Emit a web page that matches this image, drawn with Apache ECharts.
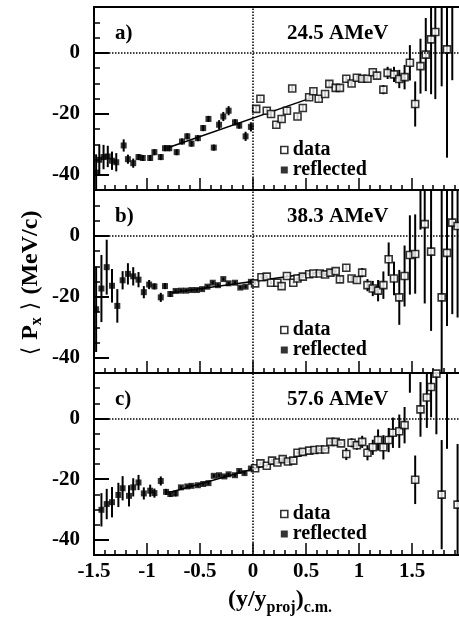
<!DOCTYPE html>
<html>
<head>
<meta charset="utf-8">
<script src="https://cdn.jsdelivr.net/npm/echarts@6/dist/echarts.min.js"></script>
<style>
  html, body { margin: 0; padding: 0; background: #fff; }
  #main { width: 459px; height: 624px; }
</style>
</head>
<body>
<div id="main"></div>
<script>
// [x (y/yproj), <Px> MeV/c, error]
const refA = [
  [-1.48, -39.3, 6], [-1.45, -35.1, 5], [-1.41, -34.2, 4], [-1.37, -34, 3.5], [-1.33, -35.4, 3],
  [-1.29, -35.9, 3], [-1.22, -30.4, 2], [-1.18, -34.9, 1.5], [-1.13, -36.2, 1.5], [-1.08, -34.2, 1],
  [-1.04, -34.5, 1], [-0.97, -34.5, 1], [-0.93, -32.6, 1], [-0.87, -34.2, 1], [-0.83, -31.3, 1],
  [-0.79, -31.3, 1], [-0.72, -32.6, 1], [-0.67, -29.1, 1], [-0.62, -27.4, 1], [-0.58, -29.8, 1],
  [-0.52, -28, 1], [-0.47, -24.7, 1], [-0.42, -21.7, 1], [-0.37, -31.1, 1], [-0.32, -23.6, 1.5],
  [-0.28, -20.9, 1.5], [-0.23, -19, 1.5], [-0.17, -22.8, 1], [-0.13, -23.9, 1], [-0.07, -27.4, 1.5],
  [-0.02, -24.3, 1.5]
];
const datA = [
  [0.03, -18.4, 1], [0.07, -15.1, 1], [0.13, -19, 1], [0.17, -20.1, 1], [0.22, -23.6, 1],
  [0.27, -21.7, 1], [0.32, -19, 1], [0.37, -11.7, 1], [0.42, -20.9, 1], [0.47, -18.1, 1],
  [0.53, -14.6, 1], [0.57, -12.6, 1], [0.62, -15.1, 1], [0.68, -13.5, 1], [0.72, -10.2, 1],
  [0.78, -11.5, 1], [0.82, -11.5, 1], [0.88, -8.5, 1], [0.93, -10.1, 1], [0.98, -8.2, 1],
  [1.03, -8.5, 1], [1.08, -8.5, 1], [1.13, -6.4, 1], [1.17, -7.5, 1], [1.23, -12.1, 1.5],
  [1.27, -6.6, 2], [1.33, -7.1, 2.5], [1.38, -8.6, 3], [1.43, -8, 4], [1.48, -3.3, 5.8],
  [1.53, -16.8, 7.4], [1.58, -4.4, 9], [1.63, -0.6, 12], [1.68, 4.4, 18], [1.72, 6.8, 22],
  [1.78, 20, 31], [1.83, 1.1, 35.5], [1.88, 20, 29]
];
const refB = [
  [-1.48, -24.1, 14], [-1.43, -17.3, 11], [-1.38, -10.3, 9], [-1.33, -16.4, 5.5], [-1.28, -23, 5.5],
  [-1.23, -14.6, 3], [-1.18, -12.5, 3.5], [-1.13, -13.3, 3], [-1.08, -14.4, 2.5], [-1.03, -18.5, 2],
  [-0.98, -16, 1.5], [-0.93, -16.6, 1], [-0.87, -20.2, 1.5], [-0.83, -16.5, 1], [-0.78, -19.1, 1],
  [-0.73, -18.1, 0.5], [-0.68, -18, 0.5], [-0.63, -18, 0.5], [-0.58, -17.8, 0.5], [-0.53, -17.8, 0.5],
  [-0.48, -17.5, 0.5], [-0.43, -16.7, 0.5], [-0.38, -15.4, 0.5], [-0.33, -16.2, 0.5], [-0.28, -14.2, 0.5],
  [-0.23, -15.6, 0.5], [-0.17, -15.4, 0.5], [-0.12, -17, 0.5], [-0.07, -16.7, 0.5], [-0.02, -15.1, 0.5]
];
const datB = [
  [0.02, -15.6, 0.5], [0.08, -13.6, 0.5], [0.13, -13.4, 0.5], [0.17, -15.4, 0.5], [0.23, -15.4, 0.5],
  [0.27, -16.5, 0.5], [0.32, -13.2, 0.5], [0.38, -15.4, 0.5], [0.42, -14, 0.5], [0.47, -13.4, 0.5],
  [0.53, -12.6, 0.5], [0.57, -12.4, 0.5], [0.63, -12.4, 0.5], [0.68, -12.7, 0.5], [0.73, -12.1, 0.5],
  [0.78, -11.6, 0.5], [0.82, -14.3, 1], [0.88, -10.5, 1], [0.93, -14, 1], [0.98, -14.5, 1],
  [1.03, -12.1, 1.5], [1.08, -16.2, 2], [1.13, -17.3, 2.5], [1.18, -18, 3.5], [1.23, -16.2, 4.5],
  [1.28, -7.7, 5.5], [1.33, -14, 5.5], [1.38, -20.2, 9], [1.43, -13.2, 10], [1.48, -6.3, 13],
  [1.53, -6, 13], [1.58, 22, 20], [1.62, 3.8, 26], [1.68, -5.2, 26], [1.78, -20.2, 40],
  [1.83, -5.6, 24], [1.88, 4.3, 30], [1.93, 3.2, 30]
];
const refC = [
  [-1.43, -30.1, 5.5], [-1.38, -28.2, 5], [-1.33, -27.6, 5], [-1.27, -25.2, 4], [-1.23, -23, 4],
  [-1.17, -25.5, 3.5], [-1.13, -22.7, 3], [-1.08, -21.1, 2.5], [-1.03, -24.7, 2], [-0.97, -23.8, 2],
  [-0.93, -24.6, 1.5], [-0.87, -20.6, 1.5], [-0.82, -24.2, 1], [-0.78, -24.9, 1], [-0.73, -24.7, 1],
  [-0.68, -22.7, 0.5], [-0.62, -22.4, 0.5], [-0.58, -22.2, 0.5], [-0.52, -22, 0.5], [-0.47, -21.6, 0.5],
  [-0.42, -21.3, 0.5], [-0.37, -18.9, 0.5], [-0.32, -18.7, 0.5], [-0.27, -19.1, 0.5], [-0.23, -18.4, 0.5],
  [-0.17, -18.7, 0.5], [-0.13, -17.3, 0.5], [-0.08, -18, 0.5], [-0.02, -16.5, 0.5]
];
const datC = [
  [0.02, -16.4, 0.5], [0.07, -14.8, 0.5], [0.13, -15.6, 0.5], [0.18, -13.9, 0.5], [0.23, -14.5, 0.5],
  [0.28, -13.4, 0.5], [0.33, -14.2, 0.5], [0.38, -13.9, 0.5], [0.42, -11.3, 0.5], [0.47, -11, 0.5],
  [0.53, -10.6, 0.5], [0.58, -10.4, 0.5], [0.63, -10.2, 0.5], [0.68, -10.2, 0.5], [0.73, -7.7, 0.5],
  [0.78, -7.7, 0.5], [0.83, -8.2, 0.5], [0.88, -11.7, 2], [0.93, -8, 1.5], [0.98, -8.8, 1.5],
  [1.03, -7.7, 2], [1.08, -11.3, 2.5], [1.13, -9.5, 2.5], [1.18, -7.1, 3.5], [1.23, -9.5, 4],
  [1.28, -7.1, 4], [1.32, -4.7, 5], [1.38, -4.2, 5.5], [1.43, -2.2, 6], [1.48, 22, 13.5],
  [1.53, -20.2, 8], [1.58, 3, 9], [1.64, 6.9, 10], [1.68, 10.4, 10], [1.73, 14.8, 20],
  [1.78, -25.1, 18], [1.83, 20, 30], [1.93, -28.4, 20]
];
// straight-line fits, [x, value] end points
const fitA = [[-0.79, -31], [0.55, -14.8]];
const fitB = [[-0.77, -18.7], [0.77, -11.2]];
const fitC = [[-0.78, -24.3], [0.72, -9.6]];

const xTicks = [-1.5, -1, -0.5, 0, 0.5, 1, 1.5];
const yTicks = [-40, -20, 0];
const labels = ['a)', 'b)', 'c)'];
const energies = ['24.5 AMeV', '38.3 AMeV', '57.6 AMeV'];

const FONT = '"Liberation Serif", "Times New Roman", serif';
const panels = [
  { top: 7, height: 183, ref: refA, dat: datA, fit: fitA, legendTop: 135 },
  { top: 190, height: 183, ref: refB, dat: datB, fit: fitB, legendTop: 315 },
  { top: 373, height: 182, ref: refC, dat: datC, fit: fitC, legendTop: 499 }
];

function renderErr(params, api) {
  const x = api.value(0), y = api.value(1), e = api.value(2);
  const cs = params.coordSys;
  const hi = api.coord([x, y + e]);
  const lo = api.coord([x, y - e]);
  const y1 = Math.max(hi[1], cs.y);
  const y2 = Math.min(lo[1], cs.y + cs.height);
  if (y2 <= y1) return;
  return {
    type: 'line',
    shape: { x1: hi[0], y1: y1, x2: hi[0], y2: y2 },
    style: { stroke: '#000', lineWidth: 2 }
  };
}

const grid = [], xAxis = [], yAxis = [], series = [], legend = [], graphic = [];

panels.forEach((p, i) => {
  grid.push({
    left: 94, right: -6, top: p.top, height: p.height,
    containLabel: false, outerBoundsMode: 'none',
    show: true, borderColor: '#000', borderWidth: 2
  });
  xAxis.push({
    gridIndex: i, type: 'value', position: 'bottom', min: -1.5, max: 2, interval: 0.5,
    axisLine: { onZero: false, lineStyle: { color: '#000', width: 2 } },
    axisTick: { inside: true, length: 12, lineStyle: { color: '#000', width: 1.5 } },
    minorTick: { show: true, splitNumber: 5, length: 5, lineStyle: { color: '#000', width: 1.5 } },
    splitLine: { show: false },
    axisLabel: {
      show: i === 2, customValues: xTicks, margin: 6,
      fontFamily: FONT, fontWeight: 'bold', fontSize: 21, color: '#000'
    }
  });
  // minor ticks every 5
  yAxis.push({
    gridIndex: i, type: 'value', position: 'left', min: -45, max: 15, interval: 5,
    axisLine: { show: false, onZero: false },
    axisTick: { inside: true, length: 6, lineStyle: { color: '#000', width: 1.5 } },
    axisLabel: { show: false },
    splitLine: { show: false }
  });
  // major ticks + labels
  yAxis.push({
    gridIndex: i, type: 'value', position: 'left', offset: 0, min: -45, max: 15,
    axisLine: { show: false, onZero: false },
    axisTick: { inside: true, length: 15, customValues: yTicks, lineStyle: { color: '#000', width: 2 } },
    axisLabel: {
      customValues: yTicks, margin: 14,
      fontFamily: FONT, fontWeight: 'bold', fontSize: 21, color: '#000'
    },
    splitLine: { show: false }
  });

  series.push({
    type: 'line', xAxisIndex: i, yAxisIndex: 2 * i, data: p.fit,
    symbol: 'none', lineStyle: { color: '#000', width: 1.5 }, z: 1, silent: true,
    markLine: {
      silent: true, symbol: 'none', label: { show: false },
      lineStyle: { type: 'dotted', color: '#000', width: 1.5 },
      data: [{ yAxis: 0 }, { xAxis: 0 }]
    }
  });
  series.push({
    type: 'custom', xAxisIndex: i, yAxisIndex: 2 * i,
    data: p.ref.concat(p.dat), encode: { x: 0, y: 1 },
    renderItem: renderErr, z: 2, silent: true
  });
  series.push({
    name: 'reflected', type: 'scatter', xAxisIndex: i, yAxisIndex: 2 * i,
    data: p.ref, encode: { x: 0, y: 1 },
    symbol: 'rect', symbolSize: 6, itemStyle: { color: '#000' }, z: 3
  });
  series.push({
    name: 'data', type: 'scatter', xAxisIndex: i, yAxisIndex: 2 * i,
    data: p.dat, encode: { x: 0, y: 1 },
    symbol: 'rect', symbolSize: 7,
    itemStyle: { color: '#fff', borderColor: '#000', borderWidth: 1.6 }, z: 4
  });

  legend.push({
    orient: 'vertical', left: 275, top: p.legendTop,
    itemWidth: 7, itemHeight: 7, itemGap: 0, selectedMode: false,
    data: [
      { name: 'data', icon: 'rect', itemStyle: { color: '#fff', borderColor: '#000', borderWidth: 1.6 } },
      { name: 'reflected', icon: 'rect', itemStyle: { color: '#000' } }
    ],
    textStyle: { fontFamily: FONT, fontWeight: 'bold', fontSize: 20, color: '#000', lineHeight: 18 }
  });

  graphic.push({
    type: 'text', x: 115, y: p.top + 26.5,
    style: { text: labels[i], font: 'bold 21px ' + FONT, fill: '#000', verticalAlign: 'middle' }
  });
  graphic.push({
    type: 'text', x: 287, y: p.top + 26.5,
    style: { text: energies[i], font: 'bold 21px ' + FONT, fill: '#000', verticalAlign: 'middle' }
  });
});

// axis titles
graphic.push({
  type: 'text', x: 31, y: 283, rotation: Math.PI / 2,
  style: {
    text: '{b|⟨ }{m|P}{s|x}{b| ⟩ }{m|(MeV/c)}',
    align: 'center', verticalAlign: 'middle',
    rich: {
      m: { fontFamily: FONT, fontWeight: 'bold', fontSize: 24, lineHeight: 28, fill: '#000' },
      b: { fontFamily: '"DejaVu Sans"', fontSize: 22, lineHeight: 28, fill: '#000' },
      s: { fontFamily: FONT, fontWeight: 'bold', fontSize: 16, lineHeight: 14, verticalAlign: 'bottom', fill: '#000' }
    }
  }
});
graphic.push({
  type: 'text', x: 280, y: 600,
  style: {
    text: '{m|(y/y}{s|proj}{m|)}{s|c.m.}',
    align: 'center', verticalAlign: 'middle',
    rich: {
      m: { fontFamily: FONT, fontWeight: 'bold', fontSize: 24, lineHeight: 32, fill: '#000' },
      s: { fontFamily: FONT, fontWeight: 'bold', fontSize: 16, lineHeight: 14, verticalAlign: 'bottom', fill: '#000' }
    }
  }
});

const chart = echarts.init(document.getElementById('main'), null, { renderer: 'canvas' });
chart.setOption({
  animation: false,
  backgroundColor: '#fff',
  grid: grid,
  xAxis: xAxis,
  yAxis: yAxis,
  legend: legend,
  graphic: graphic,
  series: series
});
</script>
</body>
</html>
